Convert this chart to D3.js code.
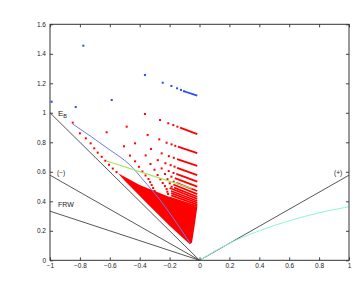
<!DOCTYPE html>
<html>
<head>
<meta charset="utf-8">
<script src="https://cdn.jsdelivr.net/npm/d3@7"></script>
<style>
  body { margin: 0; background: #fff; }
  svg text { font-family: "Liberation Sans", Arial, sans-serif; fill: #222; }
</style>
</head>
<body>
<div id="chart"></div>
<script>
// axis ticks
const xTicks = [-1, -0.8, -0.6, -0.4, -0.2, 0, 0.2, 0.4, 0.6, 0.8, 1]
const yTicks = [0, 0.2, 0.4, 0.6, 0.8, 1, 1.2, 1.4, 1.6]

// blue points (top row + first points of rows above 1)
const blueDots = [[-0.777, 1.455], [-0.365, 1.256], [-0.246, 1.204], [-0.188, 1.182],
  [-0.150, 1.166], [-0.124, 1.155], [-0.104, 1.146],
  [-0.587, 1.087], [-0.828, 1.039], [-0.989, 1.075]]
const blueTails = [[[-0.104, 1.146], [-0.015, 1.117]]]

// red points, row by row (sparse part)
const redRows = [
  [[-0.365, 0.992], [-0.264, 0.951], [-0.209, 0.929], [-0.175, 0.917], [-0.148, 0.906]],
  [[-0.487, 0.906], [-0.347, 0.850], [-0.269, 0.82], [-0.22, 0.797], [-0.187, 0.786], [-0.162, 0.776]],
  [[-0.621, 0.868], [-0.431, 0.793], [-0.324, 0.755], [-0.253, 0.725], [-0.205, 0.706], [-0.172, 0.695]],
  [[-0.848, 0.933], [-0.505, 0.773], [-0.36, 0.711], [-0.279, 0.679], [-0.228, 0.658], [-0.193, 0.645], [-0.167, 0.635]],
  [[-0.80, 0.861], [-0.465, 0.710], [-0.328, 0.653], [-0.253, 0.623], [-0.206, 0.605], [-0.174, 0.592]],
  [[-0.76, 0.827], [-0.431, 0.671], [-0.301, 0.614], [-0.231, 0.585], [-0.188, 0.567]],
  [[-0.728, 0.793], [-0.405, 0.634], [-0.28, 0.578], [-0.214, 0.55], [-0.173, 0.533]],
  [[-0.704, 0.759], [-0.382, 0.602], [-0.262, 0.549], [-0.199, 0.522]],
  [[-0.681, 0.73], [-0.361, 0.575], [-0.246, 0.524], [-0.186, 0.499]],
  [[-0.654, 0.702], [-0.341, 0.551], [-0.231, 0.503]],
  [[-0.63, 0.675], [-0.33, 0.53], [-0.22, 0.483]],
  [[-0.605, 0.648], [-0.32, 0.51], [-0.215, 0.465]],
  [[-0.58, 0.622], [-0.31, 0.49], [-0.21, 0.45]],
  [[-0.555, 0.598], [-0.30, 0.47]]
]

// dense ends of the red rows
const redTails = [
  [[-0.13, 0.899], [-0.015, 0.856]],
  [[-0.145, 0.77], [-0.015, 0.727]],
  [[-0.15, 0.686], [-0.015, 0.640]],
  [[-0.15, 0.627], [-0.015, 0.578]],
  [[-0.155, 0.586], [-0.015, 0.533]],
  [[-0.165, 0.557], [-0.015, 0.499]],
  [[-0.155, 0.525], [-0.015, 0.47]],
  [[-0.175, 0.514], [-0.015, 0.449]],
  [[-0.17, 0.493], [-0.015, 0.431]],
  [[-0.2, 0.49], [-0.015, 0.416]],
  [[-0.19, 0.47], [-0.015, 0.402]],
  [[-0.19, 0.455], [-0.015, 0.39]],
  [[-0.19, 0.44], [-0.015, 0.378]],
  [[-0.2, 0.425], [-0.015, 0.366]]
]

// solid red core between the left edge of the cloud and x = 0
const denseCore = [[-0.545, 0.59], [-0.40, 0.51], [-0.2, 0.43], [-0.015, 0.36], [-0.03, 0.25],
  [-0.05, 0.12], [-0.065, 0.108], [-0.2, 0.235], [-0.35, 0.385], [-0.5, 0.54]]

const greenLine = [[-0.621, 0.673], [-0.052, 0.488]]
const blueCurve = [[-0.848, 0.924], [-0.599, 0.748], [-0.465, 0.646], [-0.376, 0.544],
  [-0.264, 0.409], [-0.152, 0.251], [-0.063, 0.115]]
const cyanCurve = [[0, 0], [0.2, 0.115], [0.4, 0.2], [0.6, 0.268], [0.8, 0.322], [1, 0.363]]

const blackLines = [
  [[-1, 1], [0, 0]],
  [[-1, 0.577], [0, 0]],
  [[-1, 0.333], [0, 0]],
  [[0, 0], [1, 0.577]]
]

let width = 354
let height = 282
let plot = { left: 50, right: 349, top: 24.3, bottom: 260.3 }

let svg = d3.select('#chart')
  .append('svg')
  .attr('width', width)
  .attr('height', height)

let xScale = d3.scaleLinear().domain([-1, 1]).range([plot.left, plot.right])
let yScale = d3.scaleLinear().domain([0, 1.6]).range([plot.bottom, plot.top])

let line = d3.line().x(d => xScale(d[0])).y(d => yScale(d[1]))
let smooth = d3.line().x(d => xScale(d[0])).y(d => yScale(d[1])).curve(d3.curveMonotoneX)

let fmt = d => (d === 0 ? '0' : String(d).replace('-', '\u2212'))

// red dense core + tails + dots
svg.append('path')
  .attr('d', line(denseCore) + 'Z')
  .attr('fill', '#ff0000')

svg.selectAll('.red-tail')
  .data(redTails)
  .enter().append('path')
  .attr('class', 'red-tail')
  .attr('d', line)
  .attr('fill', 'none')
  .attr('stroke', '#ff0000')
  .attr('stroke-width', 1.8)

svg.selectAll('.red-dot')
  .data(redRows.flat())
  .enter().append('rect')
  .attr('class', 'red-dot')
  .attr('x', d => xScale(d[0]) - 1)
  .attr('y', d => yScale(d[1]) - 1)
  .attr('width', 2)
  .attr('height', 2)
  .attr('fill', '#ff0000')

svg.selectAll('.blue-tail')
  .data(blueTails)
  .enter().append('path')
  .attr('class', 'blue-tail')
  .attr('d', line)
  .attr('fill', 'none')
  .attr('stroke', '#2a4bff')
  .attr('stroke-width', 1.8)

svg.selectAll('.blue-dot')
  .data(blueDots)
  .enter().append('rect')
  .attr('class', 'blue-dot')
  .attr('x', d => xScale(d[0]) - 1)
  .attr('y', d => yScale(d[1]) - 1)
  .attr('width', 2)
  .attr('height', 2)
  .attr('fill', '#2a4bff')

// theory lines
svg.selectAll('.black-line')
  .data(blackLines)
  .enter().append('path')
  .attr('class', 'black-line')
  .attr('d', line)
  .attr('fill', 'none')
  .attr('stroke', '#444')
  .attr('stroke-width', 0.9)

svg.append('path')
  .attr('d', smooth(blueCurve))
  .attr('fill', 'none')
  .attr('stroke', '#6a7cf0')
  .attr('stroke-width', 1)

svg.append('path')
  .attr('d', line(greenLine))
  .attr('fill', 'none')
  .attr('stroke', '#9ee85a')
  .attr('stroke-width', 1.2)

svg.append('path')
  .attr('d', smooth(cyanCurve))
  .attr('fill', 'none')
  .attr('stroke', '#8ff5d8')
  .attr('stroke-width', 1)

// axes (MATLAB style box, ticks inward)
let xAxis = d3.axisBottom(xScale).tickValues(xTicks).tickFormat(fmt)
  .tickSizeInner(-3).tickSizeOuter(0).tickPadding(3)
let yAxis = d3.axisLeft(yScale).tickValues(yTicks).tickFormat(fmt)
  .tickSizeInner(-3).tickSizeOuter(0).tickPadding(4)

svg.append('g')
  .attr('class', 'axis x-axis')
  .attr('transform', 'translate(0,' + plot.bottom + ')')
  .call(xAxis)

svg.append('g')
  .attr('class', 'axis y-axis')
  .attr('transform', 'translate(' + plot.left + ',0)')
  .call(yAxis)

svg.append('g')
  .attr('class', 'axis')
  .attr('transform', 'translate(0,' + plot.top + ')')
  .call(d3.axisTop(xScale).tickValues(xTicks).tickFormat('').tickSizeInner(-3).tickSizeOuter(0))

svg.append('g')
  .attr('class', 'axis')
  .attr('transform', 'translate(' + plot.right + ',0)')
  .call(d3.axisRight(yScale).tickValues(yTicks).tickFormat('').tickSizeInner(-3).tickSizeOuter(0))

svg.selectAll('.axis path.domain').remove()
svg.selectAll('.axis line').attr('stroke', '#444')
svg.selectAll('.axis text').attr('font-size', 6.5).attr('fill', '#222')

svg.append('rect')
  .attr('x', plot.left)
  .attr('y', plot.top)
  .attr('width', plot.right - plot.left)
  .attr('height', plot.bottom - plot.top)
  .attr('fill', 'none')
  .attr('stroke', '#333')
  .attr('stroke-width', 1)

// labels
let eb = svg.append('text')
  .attr('x', 58)
  .attr('y', 116)
  .attr('font-size', 8)
eb.append('tspan').text('E')
eb.append('tspan').attr('font-size', 5.5).attr('dy', 1.5).text('B')

svg.append('text').attr('x', 57).attr('y', 175).attr('font-size', 6.5).text('(\u2212)')
svg.append('text').attr('x', 58).attr('y', 206.5).attr('font-size', 7).text('FRW')
svg.append('text').attr('x', 334).attr('y', 175).attr('font-size', 6.5).text('(+)')
</script>
</body>
</html>
